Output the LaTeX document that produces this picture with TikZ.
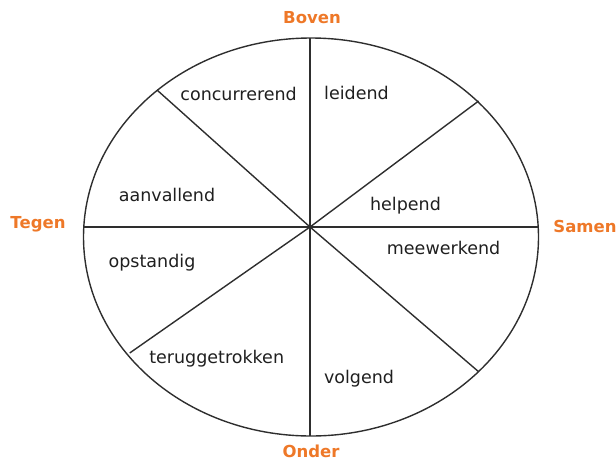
\documentclass[tikz,border=0pt]{standalone}
\usepackage{fontspec}
\setmainfont{DejaVu Sans}
\definecolor{poleorange}{RGB}{238,120,40}
\begin{document}
\begin{tikzpicture}[x=1pt,y=-1pt,
  lab/.style={font=\fontsize{17.5}{20}\selectfont, text=black!88, inner sep=0pt},
  pole/.style={font=\bfseries\fontsize{16.5}{19}\selectfont, text=poleorange, inner sep=0pt},
  ln/.style={line width=1.4pt, draw=black!82}]
\useasboundingbox (0,0) rectangle (616,461);
\draw[ln] (311,237) ellipse [x radius=227.5, y radius=199];
\coordinate (c) at (310,227);
\coordinate (top) at (310,38.2);
\coordinate (bot) at (310,435.8);
\coordinate (lft) at (83.7,227);
\coordinate (rgt) at (538.3,227);
\coordinate (ul) at (157,90);
\coordinate (ur) at (478.6,101);
\coordinate (ll) at (129.7,353);
\coordinate (lr) at (478.6,371.7);
\foreach \p in {top,bot,lft,rgt,ul,ur,ll,lr} \draw[ln] (c) -- (\p);
\node[pole] (boven) at (312,18) {Boven};
\node[pole] (onder) at (311,451) {Onder};
\node[pole] (tegen) at (38,224) {Tegen};
\node[pole] (samen) at (585,226) {Samen};
\node[lab] (concurrerend) at (238.6,94) {concurrerend};
\node[lab] (leidend) at (356.5,93) {leidend};
\node[lab] (aanvallend) at (167,195) {aanvallend};
\node[lab] (helpend) at (405.5,206) {helpend};
\node[lab] (meewerkend) at (443.6,248) {meewerkend};
\node[lab] (opstandig) at (152,263) {opstandig};
\node[lab] (teruggetrokken) at (216.7,359) {teruggetrokken};
\node[lab] (volgend) at (359,379) {volgend};
\end{tikzpicture}
\end{document}
